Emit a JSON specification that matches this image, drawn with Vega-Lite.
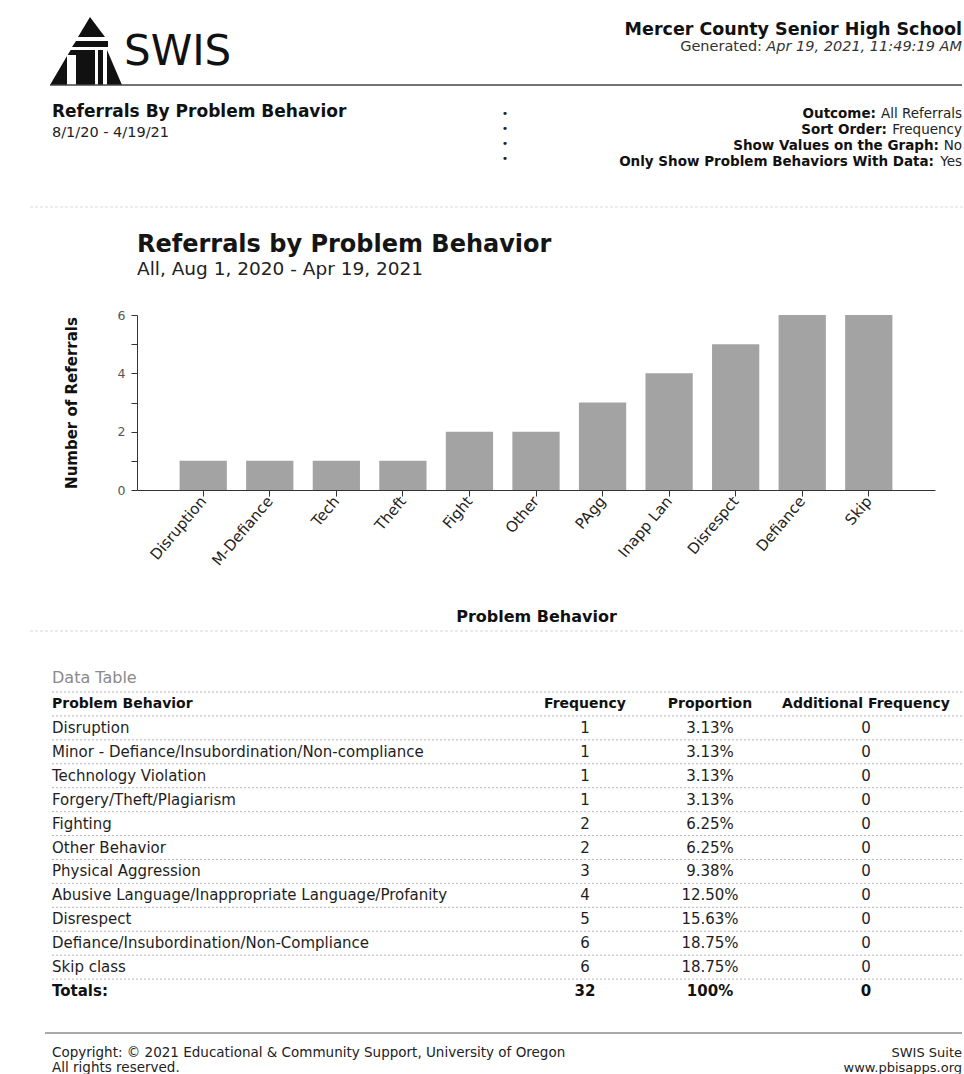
{
  "$schema": "https://vega.github.io/schema/vega-lite/v6.json",
  "padding": 0,
  "spacing": 0,
  "bounds": "flush",
  "background": "white",
  "config": {
    "view": {"stroke": null},
    "font": "DejaVu Sans",
    "concat": {"spacing": 0}
  },
  "datasets": {
    "behaviors": [
      {"code": "Disruption", "behavior": "Disruption", "frequency": 1, "proportion": "3.13%", "additional": 0},
      {"code": "M-Defiance", "behavior": "Minor - Defiance/Insubordination/Non-compliance", "frequency": 1, "proportion": "3.13%", "additional": 0},
      {"code": "Tech", "behavior": "Technology Violation", "frequency": 1, "proportion": "3.13%", "additional": 0},
      {"code": "Theft", "behavior": "Forgery/Theft/Plagiarism", "frequency": 1, "proportion": "3.13%", "additional": 0},
      {"code": "Fight", "behavior": "Fighting", "frequency": 2, "proportion": "6.25%", "additional": 0},
      {"code": "Other", "behavior": "Other Behavior", "frequency": 2, "proportion": "6.25%", "additional": 0},
      {"code": "PAgg", "behavior": "Physical Aggression", "frequency": 3, "proportion": "9.38%", "additional": 0},
      {"code": "Inapp Lan", "behavior": "Abusive Language/Inappropriate Language/Profanity", "frequency": 4, "proportion": "12.50%", "additional": 0},
      {"code": "Disrespct", "behavior": "Disrespect", "frequency": 5, "proportion": "15.63%", "additional": 0},
      {"code": "Defiance", "behavior": "Defiance/Insubordination/Non-Compliance", "frequency": 6, "proportion": "18.75%", "additional": 0},
      {"code": "Skip", "behavior": "Skip class", "frequency": 6, "proportion": "18.75%", "additional": 0}
    ],
    "header": [
      {"behavior": "Problem Behavior", "frequency": "Frequency", "proportion": "Proportion", "additional": "Additional Frequency"}
    ],
    "totals": [
      {"behavior": "Totals:", "frequency": 32, "proportion": "100%", "additional": 0}
    ]
  },
  "vconcat": [
    {
      "width": 964,
      "height": 315,
      "layer": [
        {
          "data": {"values": [{"name": "SWIS logo"}]},
          "mark": {"type": "point", "filled": true, "color": "#111", "opacity": 1, "strokeWidth": 0, "size": 4900,
            "shape": "M0.143,-0.971L0.571,-0.4L-0.2,-0.4Z M-0.257,-0.286L0.657,-0.286L0.657,-0.114L-0.371,-0.114Z M-0.514,0.143L-0.514,0.971L-1,0.971Z M-0.409,-0.029L0.286,-0.029L0.286,0.114L-0.494,0.114Z M-0.257,0.114L0.286,0.114L0.286,0.971L-0.257,0.971Z M0.371,-0.029L0.514,-0.029L0.514,0.971L0.371,0.971Z M0.629,-0.029L0.629,0.971L1.057,0.971Z"},
          "encoding": {
            "x": {"datum": 85, "type": "quantitative", "scale": {"domain": [0, 964], "nice": false, "zero": false}, "axis": null},
            "y": {"datum": 51, "type": "quantitative", "scale": {"domain": [0, 315], "reverse": true, "nice": false, "zero": false}, "axis": null}
          }
        },
        {
          "data": {"values": [{"t": "SWIS"}]},
          "mark": {"type": "text", "align": "left", "baseline": "alphabetic", "fontSize": 42, "color": "#111"},
          "encoding": {
            "text": {"field": "t", "type": "nominal"},
            "x": {"datum": 124, "type": "quantitative", "scale": {"domain": [0, 964], "nice": false, "zero": false}, "axis": null},
            "y": {"datum": 65, "type": "quantitative", "scale": {"domain": [0, 315], "reverse": true, "nice": false, "zero": false}, "axis": null}
          }
        },
        {
          "data": {"values": [{"t": "Mercer County Senior High School"}]},
          "mark": {"type": "text", "align": "right", "baseline": "alphabetic", "fontSize": 17.5, "fontWeight": "bold", "color": "#111"},
          "encoding": {
            "text": {"field": "t", "type": "nominal"},
            "x": {"datum": 962, "type": "quantitative", "scale": {"domain": [0, 964], "nice": false, "zero": false}, "axis": null},
            "y": {"datum": 35, "type": "quantitative", "scale": {"domain": [0, 315], "reverse": true, "nice": false, "zero": false}, "axis": null}
          }
        },
        {
          "data": {"values": [{"t": "Apr 19, 2021, 11:49:19 AM"}]},
          "mark": {"type": "text", "align": "right", "baseline": "alphabetic", "fontSize": 14.5, "fontStyle": "italic", "color": "#333"},
          "encoding": {
            "text": {"field": "t", "type": "nominal"},
            "x": {"datum": 962, "type": "quantitative", "scale": {"domain": [0, 964], "nice": false, "zero": false}, "axis": null},
            "y": {"datum": 51, "type": "quantitative", "scale": {"domain": [0, 315], "reverse": true, "nice": false, "zero": false}, "axis": null}
          }
        },
        {
          "data": {"values": [{"t": "Generated:"}]},
          "mark": {"type": "text", "align": "right", "baseline": "alphabetic", "fontSize": 14.5, "color": "#333"},
          "encoding": {
            "text": {"field": "t", "type": "nominal"},
            "x": {"datum": 762, "type": "quantitative", "scale": {"domain": [0, 964], "nice": false, "zero": false}, "axis": null},
            "y": {"datum": 51, "type": "quantitative", "scale": {"domain": [0, 315], "reverse": true, "nice": false, "zero": false}, "axis": null}
          }
        },
        {
          "data": {"values": [{"line": "header rule"}]},
          "mark": {"type": "rule", "color": "#444", "strokeWidth": 1.3},
          "encoding": {
            "x": {"datum": 50, "type": "quantitative", "scale": {"domain": [0, 964], "nice": false, "zero": false}, "axis": null},
            "x2": {"datum": 962},
            "y": {"datum": 85, "type": "quantitative", "scale": {"domain": [0, 315], "reverse": true, "nice": false, "zero": false}, "axis": null}
          }
        },
        {
          "data": {"values": [{"t": "Referrals By Problem Behavior"}]},
          "mark": {"type": "text", "align": "left", "baseline": "alphabetic", "fontSize": 17, "fontWeight": "bold", "color": "#111"},
          "encoding": {
            "text": {"field": "t", "type": "nominal"},
            "x": {"datum": 52, "type": "quantitative", "scale": {"domain": [0, 964], "nice": false, "zero": false}, "axis": null},
            "y": {"datum": 117, "type": "quantitative", "scale": {"domain": [0, 315], "reverse": true, "nice": false, "zero": false}, "axis": null}
          }
        },
        {
          "data": {"values": [{"t": "8/1/20 - 4/19/21"}]},
          "mark": {"type": "text", "align": "left", "baseline": "alphabetic", "fontSize": 14.5, "color": "#222"},
          "encoding": {
            "text": {"field": "t", "type": "nominal"},
            "x": {"datum": 52, "type": "quantitative", "scale": {"domain": [0, 964], "nice": false, "zero": false}, "axis": null},
            "y": {"datum": 137, "type": "quantitative", "scale": {"domain": [0, 315], "reverse": true, "nice": false, "zero": false}, "axis": null}
          }
        },
        {
          "data": {"values": [{"t": "•\n•\n•\n•"}]},
          "mark": {"type": "text", "align": "center", "baseline": "alphabetic", "fontSize": 11, "lineHeight": 15, "lineBreak": "\n", "color": "#222"},
          "encoding": {
            "text": {"field": "t", "type": "nominal"},
            "x": {"datum": 505, "type": "quantitative", "scale": {"domain": [0, 964], "nice": false, "zero": false}, "axis": null},
            "y": {"datum": 117, "type": "quantitative", "scale": {"domain": [0, 315], "reverse": true, "nice": false, "zero": false}, "axis": null}
          }
        },
        {
          "data": {"values": [{"t": "All Referrals\nFrequency\nNo\nYes"}]},
          "mark": {"type": "text", "align": "right", "baseline": "alphabetic", "fontSize": 13.5, "lineHeight": 16, "lineBreak": "\n", "color": "#222"},
          "encoding": {
            "text": {"field": "t", "type": "nominal"},
            "x": {"datum": 962, "type": "quantitative", "scale": {"domain": [0, 964], "nice": false, "zero": false}, "axis": null},
            "y": {"datum": 118, "type": "quantitative", "scale": {"domain": [0, 315], "reverse": true, "nice": false, "zero": false}, "axis": null}
          }
        },
        {
          "data": {"values": [{"t": "Outcome:"}]},
          "mark": {"type": "text", "align": "right", "baseline": "alphabetic", "fontSize": 13.5, "fontWeight": "bold", "color": "#111"},
          "encoding": {
            "text": {"field": "t", "type": "nominal"},
            "x": {"datum": 876, "type": "quantitative", "scale": {"domain": [0, 964], "nice": false, "zero": false}, "axis": null},
            "y": {"datum": 118, "type": "quantitative", "scale": {"domain": [0, 315], "reverse": true, "nice": false, "zero": false}, "axis": null}
          }
        },
        {
          "data": {"values": [{"t": "Sort Order:"}]},
          "mark": {"type": "text", "align": "right", "baseline": "alphabetic", "fontSize": 13.5, "fontWeight": "bold", "color": "#111"},
          "encoding": {
            "text": {"field": "t", "type": "nominal"},
            "x": {"datum": 887, "type": "quantitative", "scale": {"domain": [0, 964], "nice": false, "zero": false}, "axis": null},
            "y": {"datum": 134, "type": "quantitative", "scale": {"domain": [0, 315], "reverse": true, "nice": false, "zero": false}, "axis": null}
          }
        },
        {
          "data": {"values": [{"t": "Show Values on the Graph:"}]},
          "mark": {"type": "text", "align": "right", "baseline": "alphabetic", "fontSize": 13.5, "fontWeight": "bold", "color": "#111"},
          "encoding": {
            "text": {"field": "t", "type": "nominal"},
            "x": {"datum": 939, "type": "quantitative", "scale": {"domain": [0, 964], "nice": false, "zero": false}, "axis": null},
            "y": {"datum": 150, "type": "quantitative", "scale": {"domain": [0, 315], "reverse": true, "nice": false, "zero": false}, "axis": null}
          }
        },
        {
          "data": {"values": [{"t": "Only Show Problem Behaviors With Data:"}]},
          "mark": {"type": "text", "align": "right", "baseline": "alphabetic", "fontSize": 13.5, "fontWeight": "bold", "color": "#111"},
          "encoding": {
            "text": {"field": "t", "type": "nominal"},
            "x": {"datum": 934, "type": "quantitative", "scale": {"domain": [0, 964], "nice": false, "zero": false}, "axis": null},
            "y": {"datum": 166, "type": "quantitative", "scale": {"domain": [0, 315], "reverse": true, "nice": false, "zero": false}, "axis": null}
          }
        },
        {
          "data": {"values": [{"line": "section rule"}]},
          "mark": {"type": "rule", "color": "#dcdcdc", "strokeWidth": 1, "strokeDash": [3, 2]},
          "encoding": {
            "x": {"datum": 30, "type": "quantitative", "scale": {"domain": [0, 964], "nice": false, "zero": false}, "axis": null},
            "x2": {"datum": 964},
            "y": {"datum": 207, "type": "quantitative", "scale": {"domain": [0, 315], "reverse": true, "nice": false, "zero": false}, "axis": null}
          }
        }
      ]
    },
    {
      "width": 964,
      "height": 175,
      "title": {
        "text": "Referrals by Problem Behavior",
        "subtitle": "All, Aug 1, 2020 - Apr 19, 2021",
        "anchor": "start",
        "frame": "group",
        "dx": 137,
        "fontSize": 24,
        "fontWeight": "bold",
        "color": "#151515",
        "subtitleFontSize": 18.5,
        "subtitleColor": "#222",
        "subtitlePadding": 3,
        "offset": 31
      },
      "data": {"name": "behaviors"},
      "mark": {"type": "bar", "color": "#a3a3a3"},
      "encoding": {
        "x": {
          "field": "code",
          "type": "nominal",
          "sort": null,
          "scale": {"range": [137, 935], "paddingInner": 0.29, "paddingOuter": 0.64},
          "axis": {
            "title": "Problem Behavior",
            "labelAngle": -50,
            "labelFontSize": 15,
            "labelColor": "#222",
            "labelPadding": 2,
            "tickSize": 6,
            "tickColor": "#333",
            "domainColor": "#333",
            "titleFontSize": 16,
            "titleFontWeight": "bold",
            "titleColor": "#111",
            "titlePadding": 40
          }
        },
        "y": {
          "field": "frequency",
          "type": "quantitative",
          "scale": {"domain": [0, 6], "nice": false},
          "axis": {
            "title": "Number of Referrals",
            "offset": -137,
            "values": [0, 1, 2, 3, 4, 5, 6],
            "labelExpr": "datum.value % 2 === 0 ? datum.label : ''",
            "grid": false,
            "tickSize": 6,
            "tickColor": "#333",
            "domainColor": "#333",
            "labelFontSize": 12.5,
            "labelColor": "#555",
            "labelPadding": 6,
            "titleFontSize": 15,
            "titleFontWeight": "bold",
            "titleColor": "#111",
            "titlePadding": 38
          }
        }
      }
    },
    {
      "width": 964,
      "height": 202,
      "layer": [
        {
          "data": {"values": [{"line": "table rule"}]},
          "mark": {"type": "rule", "color": "#d6d6d6", "strokeWidth": 1, "strokeDash": [3, 2]},
          "encoding": {
            "x": {"datum": 30, "type": "quantitative", "scale": {"domain": [0, 964], "nice": false, "zero": false}, "axis": null},
            "x2": {"datum": 964},
            "y": {"datum": 141, "type": "quantitative", "scale": {"domain": [0, 202], "reverse": true, "nice": false, "zero": false}, "axis": null}
          }
        },
        {
          "data": {"values": [{"t": "Data Table"}]},
          "mark": {"type": "text", "align": "left", "baseline": "alphabetic", "fontSize": 16, "color": "#8a8a8a"},
          "encoding": {
            "text": {"field": "t", "type": "nominal"},
            "x": {"datum": 52, "type": "quantitative", "scale": {"domain": [0, 964], "nice": false, "zero": false}, "axis": null},
            "y": {"datum": 193, "type": "quantitative", "scale": {"domain": [0, 202], "reverse": true, "nice": false, "zero": false}, "axis": null}
          }
        }
      ]
    },
    {
      "width": 964,
      "height": 311,
      "encoding": {
        "y": {"field": "behavior", "type": "nominal", "scale": {"type": "band", "paddingInner": 0, "paddingOuter": 0, "domain": ["Problem Behavior", "Disruption", "Minor - Defiance/Insubordination/Non-compliance", "Technology Violation", "Forgery/Theft/Plagiarism", "Fighting", "Other Behavior", "Physical Aggression", "Abusive Language/Inappropriate Language/Profanity", "Disrespect", "Defiance/Insubordination/Non-Compliance", "Skip class", "Totals:"]}, "axis": null}
      },
      "layer": [
        {
          "data": {"name": "behaviors"},
          "mark": {"type": "rule", "color": "#b5b5b5", "strokeWidth": 1, "strokeDash": [2, 2]},
          "encoding": {
            "y": {"field": "behavior", "type": "nominal", "bandPosition": 0},
            "x": {"datum": 52, "type": "quantitative", "scale": {"domain": [0, 964], "nice": false, "zero": false}, "axis": null},
            "x2": {"datum": 962}
          }
        },
        {
          "data": {"name": "header"},
          "mark": {"type": "rule", "color": "#b5b5b5", "strokeWidth": 1, "strokeDash": [2, 2]},
          "encoding": {
            "y": {"field": "behavior", "type": "nominal", "bandPosition": 0},
            "x": {"datum": 52, "type": "quantitative", "scale": {"domain": [0, 964], "nice": false, "zero": false}, "axis": null},
            "x2": {"datum": 962}
          }
        },
        {
          "data": {"name": "totals"},
          "mark": {"type": "rule", "color": "#b5b5b5", "strokeWidth": 1, "strokeDash": [2, 2]},
          "encoding": {
            "y": {"field": "behavior", "type": "nominal", "bandPosition": 0},
            "x": {"datum": 52, "type": "quantitative", "scale": {"domain": [0, 964], "nice": false, "zero": false}, "axis": null},
            "x2": {"datum": 962}
          }
        },
        {
          "data": {"name": "behaviors"},
          "mark": {"type": "text", "align": "left", "fontSize": 15, "color": "#1e1e1e"},
          "encoding": {
            "x": {"datum": 52, "type": "quantitative", "scale": {"domain": [0, 964], "nice": false, "zero": false}, "axis": null},
            "text": {"field": "behavior", "type": "nominal"}
          }
        },
        {
          "data": {"name": "header"},
          "mark": {"type": "text", "align": "left", "fontSize": 14, "fontWeight": "bold", "color": "#111"},
          "encoding": {
            "x": {"datum": 52, "type": "quantitative", "scale": {"domain": [0, 964], "nice": false, "zero": false}, "axis": null},
            "text": {"field": "behavior", "type": "nominal"}
          }
        },
        {
          "data": {"name": "totals"},
          "mark": {"type": "text", "align": "left", "fontSize": 15, "fontWeight": "bold", "color": "#111"},
          "encoding": {
            "x": {"datum": 52, "type": "quantitative", "scale": {"domain": [0, 964], "nice": false, "zero": false}, "axis": null},
            "text": {"field": "behavior", "type": "nominal"}
          }
        },
        {
          "data": {"name": "behaviors"},
          "mark": {"type": "text", "align": "center", "fontSize": 15, "color": "#1e1e1e"},
          "encoding": {
            "x": {"datum": 585, "type": "quantitative", "scale": {"domain": [0, 964], "nice": false, "zero": false}, "axis": null},
            "text": {"field": "frequency", "type": "nominal"}
          }
        },
        {
          "data": {"name": "header"},
          "mark": {"type": "text", "align": "center", "fontSize": 14, "fontWeight": "bold", "color": "#111"},
          "encoding": {
            "x": {"datum": 585, "type": "quantitative", "scale": {"domain": [0, 964], "nice": false, "zero": false}, "axis": null},
            "text": {"field": "frequency", "type": "nominal"}
          }
        },
        {
          "data": {"name": "totals"},
          "mark": {"type": "text", "align": "center", "fontSize": 15, "fontWeight": "bold", "color": "#111"},
          "encoding": {
            "x": {"datum": 585, "type": "quantitative", "scale": {"domain": [0, 964], "nice": false, "zero": false}, "axis": null},
            "text": {"field": "frequency", "type": "nominal"}
          }
        },
        {
          "data": {"name": "behaviors"},
          "mark": {"type": "text", "align": "center", "fontSize": 15, "color": "#1e1e1e"},
          "encoding": {
            "x": {"datum": 710, "type": "quantitative", "scale": {"domain": [0, 964], "nice": false, "zero": false}, "axis": null},
            "text": {"field": "proportion", "type": "nominal"}
          }
        },
        {
          "data": {"name": "header"},
          "mark": {"type": "text", "align": "center", "fontSize": 14, "fontWeight": "bold", "color": "#111"},
          "encoding": {
            "x": {"datum": 710, "type": "quantitative", "scale": {"domain": [0, 964], "nice": false, "zero": false}, "axis": null},
            "text": {"field": "proportion", "type": "nominal"}
          }
        },
        {
          "data": {"name": "totals"},
          "mark": {"type": "text", "align": "center", "fontSize": 15, "fontWeight": "bold", "color": "#111"},
          "encoding": {
            "x": {"datum": 710, "type": "quantitative", "scale": {"domain": [0, 964], "nice": false, "zero": false}, "axis": null},
            "text": {"field": "proportion", "type": "nominal"}
          }
        },
        {
          "data": {"name": "behaviors"},
          "mark": {"type": "text", "align": "center", "fontSize": 15, "color": "#1e1e1e"},
          "encoding": {
            "x": {"datum": 866, "type": "quantitative", "scale": {"domain": [0, 964], "nice": false, "zero": false}, "axis": null},
            "text": {"field": "additional", "type": "nominal"}
          }
        },
        {
          "data": {"name": "header"},
          "mark": {"type": "text", "align": "center", "fontSize": 14, "fontWeight": "bold", "color": "#111"},
          "encoding": {
            "x": {"datum": 866, "type": "quantitative", "scale": {"domain": [0, 964], "nice": false, "zero": false}, "axis": null},
            "text": {"field": "additional", "type": "nominal"}
          }
        },
        {
          "data": {"name": "totals"},
          "mark": {"type": "text", "align": "center", "fontSize": 15, "fontWeight": "bold", "color": "#111"},
          "encoding": {
            "x": {"datum": 866, "type": "quantitative", "scale": {"domain": [0, 964], "nice": false, "zero": false}, "axis": null},
            "text": {"field": "additional", "type": "nominal"}
          }
        }
      ]
    },
    {
      "width": 964,
      "height": 71,
      "layer": [
        {
          "data": {"values": [{"line": "footer rule"}]},
          "mark": {"type": "rule", "color": "#555", "strokeWidth": 1.2},
          "encoding": {
            "x": {"datum": 45, "type": "quantitative", "scale": {"domain": [0, 964], "nice": false, "zero": false}, "axis": null},
            "x2": {"datum": 962},
            "y": {"datum": 30, "type": "quantitative", "scale": {"domain": [0, 71], "reverse": true, "nice": false, "zero": false}, "axis": null}
          }
        },
        {
          "data": {"values": [{"t": "Copyright: © 2021 Educational & Community Support, University of Oregon\nAll rights reserved."}]},
          "mark": {"type": "text", "align": "left", "baseline": "alphabetic", "fontSize": 13.5, "lineHeight": 15, "lineBreak": "\n", "color": "#222"},
          "encoding": {
            "text": {"field": "t", "type": "nominal"},
            "x": {"datum": 52, "type": "quantitative", "scale": {"domain": [0, 964], "nice": false, "zero": false}, "axis": null},
            "y": {"datum": 54, "type": "quantitative", "scale": {"domain": [0, 71], "reverse": true, "nice": false, "zero": false}, "axis": null}
          }
        },
        {
          "data": {"values": [{"t": "SWIS Suite\nwww.pbisapps.org"}]},
          "mark": {"type": "text", "align": "right", "baseline": "alphabetic", "fontSize": 13, "lineHeight": 15, "lineBreak": "\n", "color": "#222"},
          "encoding": {
            "text": {"field": "t", "type": "nominal"},
            "x": {"datum": 962, "type": "quantitative", "scale": {"domain": [0, 964], "nice": false, "zero": false}, "axis": null},
            "y": {"datum": 54, "type": "quantitative", "scale": {"domain": [0, 71], "reverse": true, "nice": false, "zero": false}, "axis": null}
          }
        }
      ]
    }
  ]
}
